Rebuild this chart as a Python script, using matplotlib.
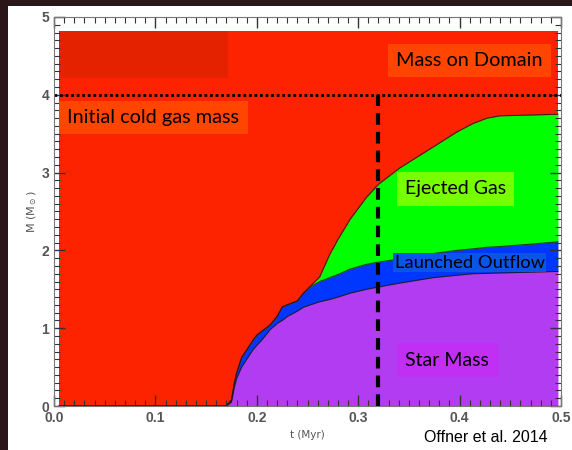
import numpy as np
import matplotlib.pyplot as plt
from matplotlib.patches import Rectangle
from matplotlib.ticker import MultipleLocator

# time (Myr) and cumulative mass boundaries (Msun)
t = [0.005, 0.170, 0.175, 0.178, 0.180, 0.185, 0.190, 0.196, 0.200, 0.205,
     0.213, 0.220, 0.225, 0.230, 0.240, 0.246, 0.255, 0.262, 0.272, 0.280,
     0.292, 0.308, 0.320, 0.341, 0.374, 0.397, 0.413, 0.427, 0.440, 0.470, 0.497]
star = [0.0, 0.0, 0.05, 0.25, 0.35, 0.50, 0.60, 0.72, 0.78, 0.85,
        0.98, 1.06, 1.10, 1.15, 1.22, 1.27, 1.31, 1.34, 1.37, 1.40,
        1.45, 1.50, 1.53, 1.58, 1.65, 1.68, 1.70, 1.705, 1.71, 1.72, 1.73]
outflow_top = [0.0, 0.0, 0.08, 0.30, 0.42, 0.62, 0.72, 0.84, 0.91, 0.96,
               1.04, 1.15, 1.27, 1.30, 1.35, 1.45, 1.55, 1.60, 1.65, 1.69,
               1.76, 1.82, 1.85, 1.89, 1.96, 2.00, 2.02, 2.04, 2.05, 2.08, 2.11]
ejected_top = [0.0, 0.0, 0.08, 0.30, 0.42, 0.62, 0.72, 0.84, 0.91, 0.96,
               1.04, 1.15, 1.27, 1.30, 1.35, 1.45, 1.57, 1.66, 1.95, 2.14,
               2.40, 2.68, 2.85, 3.06, 3.33, 3.52, 3.63, 3.70, 3.73, 3.74, 3.75]
domain_mass = 4.82
initial_mass = 4.0
t_marker = 0.32

t = np.array(t)

fig = plt.figure(figsize=(5.72, 4.5), dpi=100, facecolor='#2a1618')
# white slide panel behind the plot
fig.patches.append(Rectangle((8 / 572, 0), 1, 1 - 6 / 450, transform=fig.transFigure,
                             facecolor='white', edgecolor='none', zorder=0))
ax = fig.add_axes([54 / 572, 1 - 406 / 450, 507 / 572, 389 / 450])
ax.set_zorder(2)

red = '#fe2300'
ax.fill_between(t, 0, domain_mass, color=red, lw=0)
ax.add_patch(Rectangle((t[0], 4.22), 0.172 - t[0], domain_mass - 4.22,
                       facecolor='#e42200', edgecolor='none'))
ax.fill_between(t, outflow_top, ejected_top, color='#00ff00', lw=0)
ax.fill_between(t, star, outflow_top, color='#0037ff', lw=0)
ax.fill_between(t, 0, star, color='#b13cf2', lw=0)
for y in (star, outflow_top, ejected_top):
    ax.plot(t, y, color='#1a1a1a', lw=0.8, alpha=0.8)

ax.axhline(initial_mass, color='black', lw=2, ls=(0, (1, 1)))
ax.plot([t_marker, t_marker], [0, initial_mass], color='black', lw=3, ls=(0, (2.8, 1.7)))

font = ['Lato', 'DejaVu Sans']
ax.text(0.013, 3.71, 'Initial cold gas mass', family=font, fontsize=14.3, va='center',
        bbox=dict(facecolor='#ff4500', edgecolor='none', pad=6))
ax.text(0.41, 4.44, 'Mass on Domain', family=font, fontsize=14.3, va='center', ha='center',
        bbox=dict(facecolor='#ff4500', edgecolor='none', pad=6))
ax.text(0.396, 2.79, 'Ejected Gas', family=font, fontsize=14, va='center', ha='center',
        bbox=dict(facecolor='#77ff00', edgecolor='none', pad=6))
ax.text(0.41, 1.84, 'Launched Outflow', family=font, fontsize=13.2, va='center', ha='center',
        bbox=dict(facecolor='#0a55e8', edgecolor='none', pad=1))
ax.text(0.388, 0.59, 'Star Mass', family=font, fontsize=14, va='center', ha='center',
        bbox=dict(facecolor='#c22ff4', edgecolor='none', pad=6))

ax.set_xlim(0, 0.5)
ax.set_ylim(0, 5)
ax.xaxis.set_major_locator(MultipleLocator(0.1))
ax.xaxis.set_minor_locator(MultipleLocator(0.01))
ax.yaxis.set_major_locator(MultipleLocator(1))
ax.yaxis.set_minor_locator(MultipleLocator(0.1))
ax.xaxis.set_major_formatter(lambda v, p: f'{v:.1f}')
ax.tick_params(which='both', direction='in', top=True, right=True, color='#333333',
               labelcolor='#555555', labelsize=10)
ax.tick_params(which='major', length=8, width=1)
ax.tick_params(which='minor', length=4, width=0.8)
for lab in ax.get_xticklabels() + ax.get_yticklabels():
    lab.set_family('Liberation Sans')
    lab.set_fontweight('bold')
for s in ax.spines.values():
    s.set_color('#777777')

ax.set_xlabel('t (Myr)', fontsize=7.5, color='#555555', labelpad=4)
ax.set_ylabel(r'M (M$_\odot$)', fontsize=8, color='#555555', labelpad=2)
fig.text(486 / 572, 1 - 437 / 450, 'Offner et al. 2014', family='Liberation Sans',
         fontsize=11.5, ha='center', va='center', color='black')

fig.savefig('out.png', dpi=100, facecolor=fig.get_facecolor())
